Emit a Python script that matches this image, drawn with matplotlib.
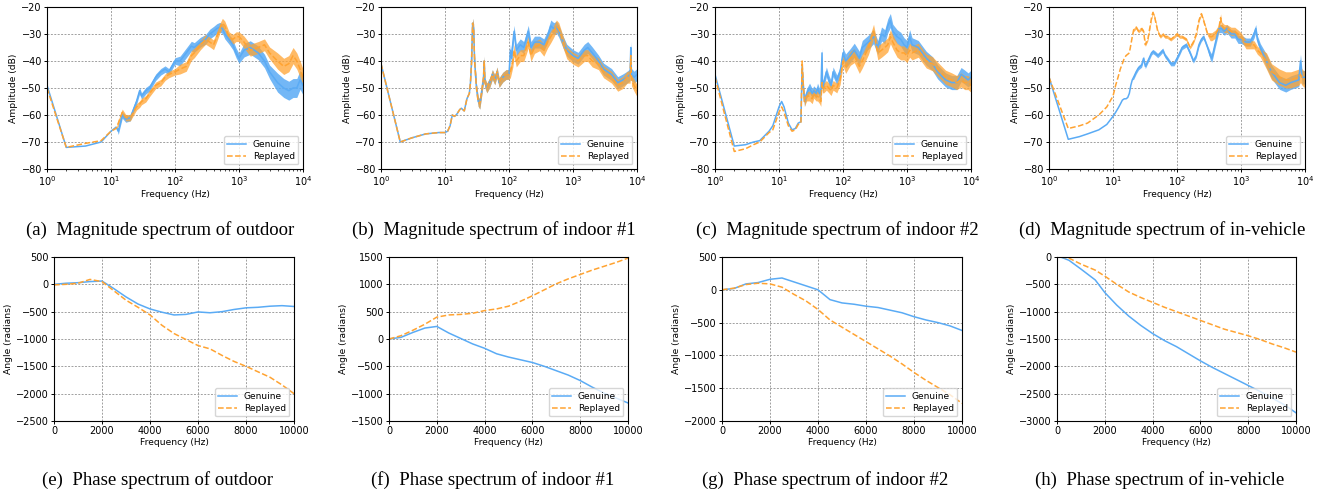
import numpy as np
import matplotlib.pyplot as plt

BLUE = '#5aabf5'
ORANGE = '#ffa331'

# ---- magnitude spectra (Hz, dB) ----
freq_a = [1, 2, 4, 7, 10, 12, 13, 15, 17, 20, 25, 28, 30, 35, 40, 50, 60, 70, 80, 100,
          120, 150, 180, 200, 250, 300, 350, 400, 450, 500, 550, 600, 700, 800, 900, 1000,
          1200, 1500, 2000, 2500, 3000, 4000, 5000, 6000, 7000, 8000, 9000, 10000]
gen_a = [-49, -72, -71.5, -70, -66, -64.5, -66, -60, -61.5, -61, -55, -51, -53, -51, -50, -46, -44, -43, -44, -40,
         -40, -37, -34.5, -35, -33, -32, -30, -29, -28, -27.5, -28, -30, -32, -34, -37, -39,
         -36, -35, -37, -40, -44, -48, -50, -51, -50, -50, -47, -49]
rep_a = [-50, -72, -70.5, -69.5, -66, -65, -63, -59, -61, -61, -57, -56, -55, -54, -52, -49, -48, -46, -45, -44,
         -43, -42, -38, -37, -34, -32, -33, -34, -31, -28, -26, -27, -31, -32, -31, -31,
         -33, -36, -35, -34, -37, -40, -42, -41, -38, -40, -43, -46]

freq_b = [1, 2, 3, 5, 8, 10, 11, 12, 13, 14, 15, 17, 18, 20, 22, 24, 25, 26, 27, 28,
          29, 31, 33, 35, 38, 40, 41, 42, 45, 50, 55, 60, 65, 70, 80, 90, 100, 105, 110, 115,
          120, 130, 150, 170, 200, 220, 250, 300, 350, 400, 450, 500, 550, 600, 700, 800, 1000, 1200,
          1500, 1700, 2000, 2500, 3000, 4000, 5000, 6000, 7000, 7800, 8000, 8200, 9000, 10000]
gen_b = [-41, -70, -68.5, -67, -66.5, -66.5, -66, -64, -60, -60.5, -60, -58, -57.5, -58.5, -54, -52, -48, -40, -26, -28,
         -40, -50, -55, -56, -50, -46, -40, -48, -50, -48, -45, -47, -44, -48, -46, -45, -45, -36, -39, -33,
         -29, -36, -34, -35, -29, -35, -33, -33, -34, -31, -27, -28, -27.5, -29, -33, -36, -38, -39,
         -36, -35, -37, -40, -43, -45, -48, -47, -46, -45, -35, -45, -46, -45]
rep_b = [-41, -70, -68.5, -67, -66.5, -66.5, -66, -64, -60, -60.5, -60, -58, -57.5, -58.5, -54, -52, -48, -40, -26, -28,
         -40, -50, -55, -56, -50, -46, -40, -48, -50, -48, -45, -47, -44, -48, -46, -45, -45, -44, -42, -40,
         -36, -40, -38, -38, -33, -38, -35, -34, -36, -33, -31, -29, -27, -28, -33, -37, -39, -40,
         -38, -38, -40, -41, -44, -46, -49, -48, -46, -46, -38, -47, -49, -51]

freq_c = [1, 2, 3, 4, 5, 7, 8, 10, 11, 12, 14, 16, 18, 20, 22, 23, 24, 25, 27, 30,
          33, 35, 38, 40, 43, 45, 47, 48, 50, 55, 60, 65, 70, 80, 90, 100, 110, 130, 150, 180,
          200, 250, 300, 350, 400, 450, 500, 550, 600, 700, 800, 900, 1000, 1100, 1200,
          1500, 2000, 2500, 3000, 4000, 5000, 6000, 7000, 8000, 9000, 10000]
gen_c = [-45, -71.5, -71, -70, -69.5, -66, -64, -57, -55, -57, -63, -65.5, -65, -63, -62.5, -42, -50, -55, -52, -50,
         -52, -51, -52, -50, -52, -52, -37, -50, -48, -44, -47, -49, -44, -47, -44, -37, -40, -38, -36, -39,
         -35, -33, -31, -35, -30, -31, -27, -25, -29, -31, -32, -34, -35, -31, -34,
         -35, -39, -41, -44, -47, -48, -48, -45, -46, -47, -46]
rep_c = [-46, -73.5, -72.5, -71, -70, -66.5, -65.5, -59, -57, -59, -64, -66, -65.5, -63.5, -63, -40, -49, -55, -53, -53,
         -54, -52, -53, -53, -54, -55, -48, -50, -50, -49, -50, -51, -49, -50, -47, -40, -42, -39, -38, -42,
         -40, -35, -29, -37, -36, -35, -34, -31, -33, -36, -37, -37, -38, -36, -37,
         -36, -40, -41, -43, -46, -47, -48, -47, -48, -48, -49]

freq_d = [1, 2, 3, 4, 6, 8, 10, 11, 12, 13, 14, 15, 16, 17, 18, 19, 20, 21, 22, 23,
          25, 28, 30, 32, 35, 40, 42, 45, 50, 55, 60, 65, 70, 80, 90, 100, 110, 120, 140, 160,
          180, 200, 220, 240, 260, 300, 330, 350, 400, 450, 480, 500, 550, 600, 700, 800, 900, 1000,
          1200, 1400, 1600, 1700, 1800, 2000, 2500, 3000, 4000, 5000, 6000, 8000, 8500, 9000, 10000]
gen_d = [-46, -69, -68, -67, -65.5, -63.5, -60.5, -59, -57.5, -56, -54.5, -54, -54, -53.5, -52, -49, -47, -46, -45, -44,
         -42.5, -41.5, -39, -42, -40, -37, -36.5, -37, -38, -37, -36, -38, -39, -41, -41, -39, -37, -35, -34, -37,
         -40, -38, -34, -32, -31, -35, -38, -39, -33, -28, -28, -28, -29, -28, -30, -30, -32, -32,
         -33, -33, -30, -28, -32, -35, -40, -44, -48, -49, -48, -47, -40, -46, -46]
rep_d = [-46, -65, -64, -63, -60, -57, -53, -49, -46, -43, -41, -39, -38, -37.5, -37, -34, -31, -28.5, -28, -27.5,
         -29, -28, -29, -34, -32, -24, -22, -24, -29, -31, -30, -31, -31, -32, -31, -30, -31, -31, -32, -35,
         -33, -30, -25, -22.5, -25, -30, -31, -31, -30, -28, -24, -27, -28, -28, -29, -29, -30, -31,
         -34, -34, -34, -35, -36, -37, -40, -44, -46, -47, -47, -46, -45, -46, -47]

# noise band half-width (dB) as steps: (upper frequency, width)
band_a_gen = [(12, 0), (100, 1.2), (1000, 1.8), (3000, 2.5), (1e5, 3.5)]
band_a_rep = [(12, 0), (100, 1.2), (1000, 1.8), (3000, 2.2), (1e5, 3.0)]
band_b = [(25, 0), (100, 1.8), (1e5, 2.2)]
band_c = [(23, 0), (100, 1.8), (1e5, 2.6)]
band_d_gen = [(20, 0), (300, 0.8), (2000, 1.5), (1e5, 2.5)]
band_d_rep = [(20, 0), (300, 0.6), (2000, 1.5), (1e5, 3.0)]

# ---- phase spectra (Hz, radians) ----
pf = [0, 500, 1000, 1500, 2000, 2500, 3000, 3500, 4000, 4500, 5000,
      5500, 6000, 6500, 7000, 7500, 8000, 8500, 9000, 9500, 10000]
gen_e = [0, 20, 30, 50, 60, -80, -230, -360, -450, -510, -560,
         -550, -505, -520, -500, -460, -430, -420, -400, -390, -405]
rep_e = [-10, 0, 20, 90, 50, -120, -290, -420, -560, -750, -900,
         -1010, -1120, -1180, -1300, -1410, -1500, -1600, -1700, -1840, -2000]
gen_f = [0, 30, 120, 200, 230, 110, 10, -90, -170, -270, -330,
         -380, -430, -500, -580, -660, -760, -880, -990, -1080, -1170]
rep_f = [0, 60, 160, 270, 400, 440, 450, 470, 520, 550, 600,
         690, 790, 900, 1010, 1100, 1180, 1260, 1330, 1400, 1480]
gen_g = [0, 20, 90, 110, 160, 180, 120, 60, 0, -150, -200,
         -220, -250, -270, -310, -350, -410, -460, -500, -550, -620]
rep_g = [0, 25, 80, 100, 90, 40, -70, -170, -300, -460, -570,
         -680, -790, -900, -1010, -1130, -1260, -1380, -1490, -1600, -1730]
pf_h = [150, 500, 1000, 1600, 2000, 2500, 3000, 3500, 4000, 4500, 5000,
        5500, 6000, 6500, 7000, 7500, 8000, 8500, 9000, 9500, 10000]
gen_h = [0, -60, -220, -420, -650, -880, -1080, -1250, -1400, -1530, -1640,
         -1770, -1900, -2020, -2130, -2240, -2350, -2460, -2580, -2700, -2850]
rep_h = [0, -20, -130, -240, -350, -500, -640, -740, -830, -920, -1000,
         -1080, -1160, -1240, -1320, -1380, -1440, -1510, -1590, -1660, -1740]

captions_top = ['(a)  Magnitude spectrum of outdoor', '(b)  Magnitude spectrum of indoor #1',
                '(c)  Magnitude spectrum of indoor #2', '(d)  Magnitude spectrum of in-vehicle']
captions_bot = ['(e)  Phase spectrum of outdoor', '(f)  Phase spectrum of indoor #1',
                '(g)  Phase spectrum of indoor #2', '(h)  Phase spectrum of in-vehicle']

W, H = 1325, 496
fig = plt.figure(figsize=(W / 100, H / 100), dpi=100)


def add_ax(left, right, top, bottom):
    return fig.add_axes([left / W, 1 - bottom / H, (right - left) / W, (bottom - top) / H])


def band(freqs, steps):
    out = []
    for f in freqs:
        for lim, w in steps:
            if f <= lim:
                out.append(w)
                break
    return np.array(out)


def style(ax, xlabel, ylabel):
    ax.grid(True, which='major', color='#a0a0a0', linestyle=(0, (2, 1.5)), lw=0.7)
    ax.set_axisbelow(True)
    ax.tick_params(labelsize=7, length=2.2, width=0.7, pad=1.5)
    ax.tick_params(which='minor', length=1.3, width=0.5)
    ax.set_xlabel(xlabel, fontsize=6.6, labelpad=1.5)
    ax.set_ylabel(ylabel, fontsize=6.6, labelpad=2.5)
    for s in ax.spines.values():
        s.set_linewidth(0.8)
    ax.legend(loc='lower right', fontsize=6.5, handlelength=2.0, borderpad=0.4, labelspacing=0.35)


def mag_panel(ax, f, gen, rep, bg, br):
    f = np.array(f, dtype=float)
    g = np.array(gen, dtype=float)
    r = np.array(rep, dtype=float)
    wg = band(f, bg)
    wr = band(f, br)
    ax.fill_between(f, g - wg, g + wg, color=BLUE, alpha=0.85, lw=0)
    ax.plot(f, g, color=BLUE, lw=1.1, label='Genuine')
    ax.fill_between(f, r - wr, r + wr, color=ORANGE, alpha=0.75, lw=0)
    ax.plot(f, r, color=ORANGE, lw=1.1, ls='--', label='Replayed')
    ax.set_xscale('log')
    ax.set_xlim(1, 1e4)
    ax.set_ylim(-80, -20)
    style(ax, 'Frequency (Hz)', 'Amplitude (dB)')


def phase_panel(ax, f, gen, rep, ylim):
    ax.plot(f, gen, color=BLUE, lw=1.1, label='Genuine')
    ax.plot(f, rep, color=ORANGE, lw=1.1, ls='--', label='Replayed')
    ax.set_xlim(0, 10000)
    ax.set_ylim(*ylim)
    ax.set_xticks(range(0, 10001, 2000))
    ax.set_yticks(range(ylim[0], ylim[1] + 1, 500))
    style(ax, 'Frequency (Hz)', 'Angle (radians)')


top_x = [(47, 303), (381, 637), (715, 971), (1049, 1305)]
bot_x = [(54, 294), (389, 628), (722, 962), (1057, 1296)]
top_cap_x = [160, 494, 837, 1162]
bot_cap_x = [157, 493, 825, 1160]

mags = [(freq_a, gen_a, rep_a, band_a_gen, band_a_rep),
        (freq_b, gen_b, rep_b, band_b, band_b),
        (freq_c, gen_c, rep_c, band_c, band_c),
        (freq_d, gen_d, rep_d, band_d_gen, band_d_rep)]
phases = [(pf, gen_e, rep_e, (-2500, 500)),
          (pf, gen_f, rep_f, (-1500, 1500)),
          (pf, gen_g, rep_g, (-2000, 500)),
          (pf_h, gen_h, rep_h, (-3000, 0))]

for i in range(4):
    ax = add_ax(top_x[i][0], top_x[i][1], 7, 169)
    mag_panel(ax, *mags[i])
    fig.text(top_cap_x[i] / W, 1 - 230 / H, captions_top[i], ha='center', va='center',
             family='Liberation Serif', fontsize=13.5)

    ax = add_ax(bot_x[i][0], bot_x[i][1], 257, 421)
    phase_panel(ax, *phases[i])
    fig.text(bot_cap_x[i] / W, 1 - 480 / H, captions_bot[i], ha='center', va='center',
             family='Liberation Serif', fontsize=13.5)

fig.savefig('out.png', dpi=100)
